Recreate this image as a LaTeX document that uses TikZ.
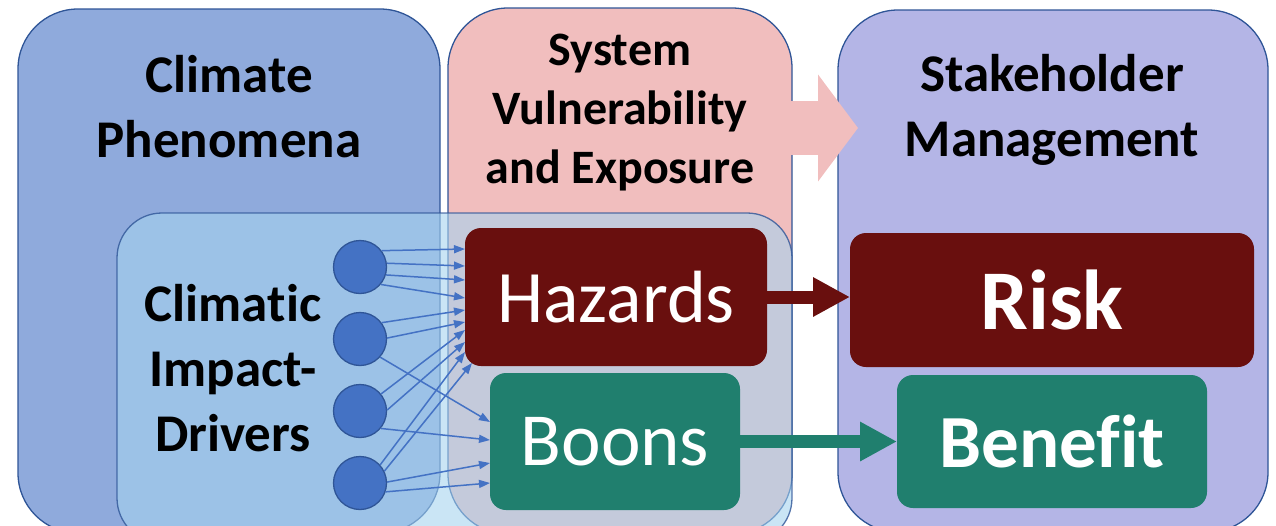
\documentclass[tikz,border=0pt]{standalone}
\usepackage{fontspec}
\setmainfont{Carlito}[Ligatures=NoCommon]
\usepackage{xcolor}
\usepackage{tikz}
\usetikzlibrary{arrows.meta}

\definecolor{edgeblue}{HTML}{2F5597}
\definecolor{phenfill}{HTML}{8FAADC}
\definecolor{sysfill}{HTML}{F1BEBE}
\definecolor{stakefill}{HTML}{B4B5E6}
\definecolor{cidfill}{HTML}{A6D3EF}
\definecolor{driverblue}{HTML}{4472C4}
\definecolor{hazred}{HTML}{690F0E}
\definecolor{boonteal}{HTML}{207F6E}

\begin{document}
\begin{tikzpicture}[x=1pt, y=-1pt,
		panel/.style={draw=edgeblue, line width=1.3pt, rounded corners=60pt, inner sep=0pt, outer sep=0pt},
		title/.style={font=\bfseries\fontsize{53}{65}\selectfont, align=center},
		block/.style={rounded corners=16pt, inner sep=0pt, outer sep=0pt, text=white},
		driver/.style={circle, draw=edgeblue, line width=1.3pt, fill=driverblue, minimum size=53pt, inner sep=0pt},
		link/.style={draw=driverblue, line width=1.5pt, -{Triangle[length=11pt,width=8pt]}},
		bigflow/.style={draw=sysfill, line width=54pt, -{Triangle[length=40pt,width=105pt]}},
		blockflow/.style={line width=13pt, -{Triangle[length=37pt,width=37pt]}}]
		\useasboundingbox (0,0) rectangle (1276,525);
		\clip (0,0) rectangle (1276,525);

		\node[panel, fill=phenfill, minimum width=422pt, minimum height=524pt] (phen) at (229,271) {};
		\node[panel, fill=sysfill, minimum width=344pt, minimum height=526pt] (sysvul) at (620,271) {};
		\node[panel, fill=stakefill, minimum width=430pt, minimum height=522pt] (stake) at (1053,271) {};

		\draw[bigflow, shorten <=-3pt, shorten >=-20pt] ([yshift=143pt]sysvul.east) -- ([yshift=143pt]stake.west);

		\node[title] (phentitle) at (229,107) {Climate\\Phenomena};
		\node[title, font=\bfseries\fontsize{48}{59}\selectfont] (systitle) at (620,113) {System\\Vulnerability\\and Exposure};
		\node[title] (staketitle) at (1052,110) {Stakeholder\\Management};

		\node[panel, rounded corners=45pt, fill=cidfill, fill opacity=0.6, draw opacity=0.8,
			minimum width=675pt, minimum height=330pt] (cid) at (454.5,378) {};
		\node[title] (cidtitle) at (233,368) {Climatic\\Impact-\\Drivers};

		\node[driver] (c1) at (360,267) {};
		\node[driver] (c2) at (360,339) {};
		\node[driver] (c3) at (360,411) {};
		\node[driver] (c4) at (360,483) {};

		\node[block, fill=hazred, minimum width=302pt, minimum height=138pt, font=\fontsize{74}{80}\selectfont] (haz) at (616,297) {Hazards};
		\node[block, fill=boonteal, minimum width=250pt, minimum height=137pt, font=\fontsize{75}{80}\selectfont] (boons) at (615,441.5) {Boons};
		\node[block, fill=hazred, minimum width=404pt, minimum height=134pt, font=\bfseries\fontsize{85}{90}\selectfont] (risk) at (1052,300) {Risk};
		\node[block, fill=boonteal, minimum width=310pt, minimum height=133pt, font=\bfseries\fontsize{75}{80}\selectfont] (benefit) at (1052,441.5) {Benefit};

		% drivers to hazards and boons
		\draw[link] (c1.37) -- ([yshift=48pt]haz.west);
		\draw[link] (c1.8) -- ([yshift=31pt]haz.west);
		\draw[link] (c1.-17) -- ([yshift=17pt]haz.west);
		\draw[link] (c1.-40) -- ([yshift=-1pt]haz.west);
		\draw[link] (c2.37) -- ([yshift=-13pt]haz.west);
		\draw[link] (c2.2) -- ([yshift=-25pt]haz.west);
		\draw[link] (c2.-42) -- ([yshift=19.5pt]boons.west);
		\draw[link] (c3.39) -- ([yshift=-33pt]haz.west);
		\draw[link] (c3.2) -- ([yshift=-45pt]haz.west);
		\draw[link] (c3.-40) -- ([yshift=1.5pt]boons.west);
		\draw[link] (c4.42) -- ([yshift=-55pt]haz.west);
		\draw[link] (c4.26) -- ([xshift=7pt,yshift=-66pt]haz.west);
		\draw[link] (c4.2) -- ([yshift=-21.5pt]boons.west);
		\draw[link] (c4.-19) -- ([yshift=-41.5pt]boons.west);

		\draw[blockflow, draw=hazred] (haz.east) -- (haz.east -| risk.west);
		\draw[blockflow, draw=boonteal] (boons.east) -- (benefit.west);
	\end{tikzpicture}
\end{document}
